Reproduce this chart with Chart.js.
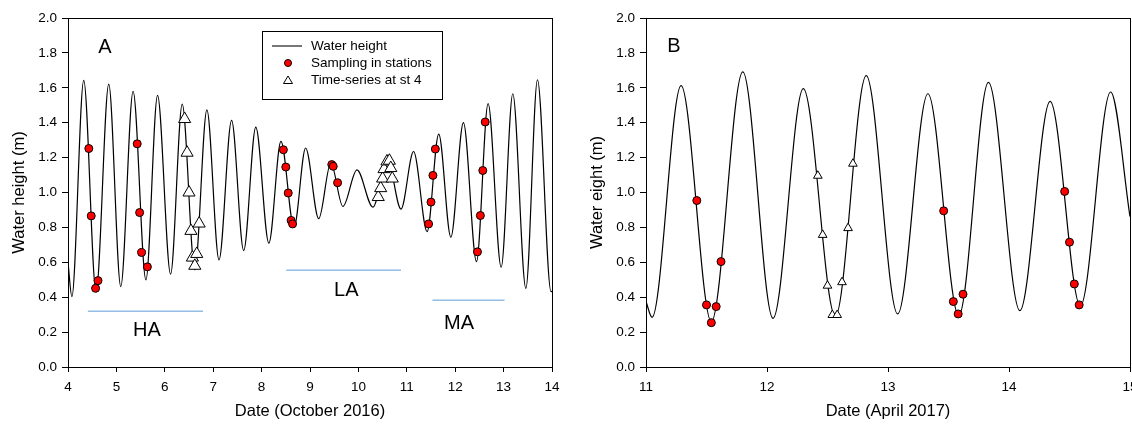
<!DOCTYPE html>
<html><head><meta charset="utf-8">
<script src="https://cdn.jsdelivr.net/npm/chart.js@4.4.1/dist/chart.umd.min.js"></script>
<style>
html,body{margin:0;padding:0;background:#fff;overflow:hidden;width:1132px;height:424px;}
#wrap{position:relative;width:1132px;height:424px;overflow:hidden;background:#fff;}
canvas{position:absolute;top:0;}
</style></head><body>
<div id="wrap">
<canvas id="cA" width="570" height="424" style="left:0px"></canvas>
<canvas id="cB" width="570" height="424" style="left:578px"></canvas>
</div>
<script>
// ---------- data ----------
const yTickValues = [0, 0.2, 0.4, 0.6, 0.8, 1.0, 1.2, 1.4, 1.6, 1.8, 2.0];
const xTicksA = [4, 5, 6, 7, 8, 9, 10, 11, 12, 13, 14];
const xTicksB = [11, 12, 13, 14, 15];

// Panel A: water height, October 2016 (peaks and troughs)
const tideA_date = [4.00, 4.08, 4.325, 4.58, 4.842, 5.09, 5.345, 5.61, 5.85, 6.12, 6.36, 6.62, 6.87, 7.12, 7.38, 7.63, 7.88, 8.15, 8.40, 8.67, 8.91, 9.18, 9.43, 9.68, 9.97, 10.30, 10.60, 10.88, 11.14, 11.42, 11.66, 11.91, 12.17, 12.44, 12.68, 12.95, 13.19, 13.46, 13.70, 13.98, 14.00];
const tideA_height = [0.60, 0.403, 1.643, 0.43, 1.621, 0.461, 1.580, 0.499, 1.557, 0.532, 1.507, 0.557, 1.474, 0.614, 1.413, 0.667, 1.375, 0.71, 1.293, 0.80, 1.255, 0.85, 1.169, 0.92, 1.13, 0.916, 1.19, 0.905, 1.235, 0.776, 1.335, 0.744, 1.40, 0.604, 1.509, 0.572, 1.566, 0.451, 1.646, 0.432, 0.434];

const stationsA_date = [4.43, 4.48, 4.57, 4.62, 5.43, 5.48, 5.52, 5.64, 8.45, 8.50, 8.55, 8.61, 8.64, 9.45, 9.48, 9.57, 11.45, 11.50, 11.54, 11.59, 12.46, 12.52, 12.57, 12.62];
const stationsA_height = [1.252, 0.866, 0.451, 0.495, 1.279, 0.885, 0.656, 0.574, 1.245, 1.146, 0.997, 0.84, 0.82, 1.16, 1.15, 1.056, 0.820, 0.945, 1.098, 1.249, 0.660, 0.868, 1.126, 1.404];

const seriesA_date = [6.41, 6.46, 6.50, 6.54, 6.57, 6.62, 6.66, 6.71, 10.41, 10.46, 10.50, 10.53, 10.59, 10.64, 10.67, 10.70];
const seriesA_height = [1.421, 1.228, 1.00, 0.78, 0.627, 0.58, 0.648, 0.822, 0.974, 1.025, 1.08, 1.134, 1.178, 1.182, 1.14, 1.08];

// Tidal periods shown under panel A
const periodNames = ['HA', 'LA', 'MA'];
const periodStart = [4.41, 8.51, 11.53];
const periodEnd = [6.79, 10.88, 13.02];
const periodLevel = [0.32, 0.555, 0.383];

// Panel B: water height, April 2017
const tideB_date = [11.00, 11.05, 11.29, 11.54, 11.80, 12.05, 12.30, 12.565, 12.82, 13.08, 13.33, 13.585, 13.83, 14.09, 14.34, 14.59, 14.84, 15.00];
const tideB_height = [0.375, 0.285, 1.612, 0.26, 1.691, 0.279, 1.595, 0.29, 1.67, 0.304, 1.566, 0.295, 1.631, 0.323, 1.522, 0.35, 1.576, 0.862];

const stationsB_date = [11.42, 11.50, 11.54, 11.58, 11.62, 13.46, 13.54, 13.58, 13.62, 14.46, 14.50, 14.54, 14.58];
const stationsB_height = [0.954, 0.356, 0.254, 0.346, 0.604, 0.895, 0.375, 0.304, 0.417, 1.006, 0.715, 0.476, 0.356];

const seriesB_date = [12.42, 12.46, 12.50, 12.54, 12.58, 12.62, 12.67, 12.71];
const seriesB_height = [1.096, 0.757, 0.466, 0.298, 0.298, 0.486, 0.796, 1.165];

// ---------- helpers ----------
const FONT = '"Liberation Sans", Arial, sans-serif';
const zip = (xs, ys) => xs.map((x, i) => ({ x: x, y: ys[i] }));

const framePlugin = {
  id: 'frame',
  afterDraw(chart) {
    const a = chart.chartArea, ctx = chart.ctx;
    ctx.save();
    ctx.strokeStyle = '#000'; ctx.lineWidth = 1;
    ctx.strokeRect(Math.round(a.left) + 0.5, Math.round(a.top) + 0.5, Math.round(a.right - a.left), Math.round(a.bottom - a.top));
    ctx.restore();
  }
};

function annotPlugin(cfg) {
  return {
    id: 'annot',
    afterDraw(chart) {
      const ctx = chart.ctx, a = chart.chartArea;
      const xs = chart.scales.x, ys = chart.scales.y;
      ctx.save();
      ctx.fillStyle = '#000';
      ctx.textAlign = 'center'; ctx.textBaseline = 'middle';
      ctx.font = '20px ' + FONT;
      ctx.fillText(cfg.letter, a.left + cfg.letterDx, a.top + cfg.letterDy);
      (cfg.texts || []).forEach(t => {
        ctx.fillText(t.text, xs.getPixelForValue(t.x), ys.getPixelForValue(t.y));
      });
      if (cfg.legend) {
        const L = a.left + 194, T = a.top + 12.5;
        ctx.strokeStyle = '#000'; ctx.lineWidth = 1;
        ctx.strokeRect(Math.round(L) + 0.5, Math.round(T) + 0.5, 180, 68);
        ctx.strokeStyle = '#777'; ctx.lineWidth = 2;
        ctx.beginPath(); ctx.moveTo(L + 10, T + 15.5); ctx.lineTo(L + 40, T + 15.5); ctx.stroke();
        ctx.fillStyle = '#ff0000'; ctx.strokeStyle = '#000'; ctx.lineWidth = 1;
        ctx.beginPath(); ctx.arc(L + 26, T + 32.5, 3.5, 0, Math.PI * 2); ctx.fill(); ctx.stroke();
        ctx.fillStyle = '#fff';
        ctx.beginPath(); ctx.moveTo(L + 26, T + 45.5); ctx.lineTo(L + 30.5, T + 53); ctx.lineTo(L + 21.5, T + 53); ctx.closePath(); ctx.fill(); ctx.stroke();
        ctx.fillStyle = '#000'; ctx.textAlign = 'left'; ctx.font = '13.5px ' + FONT;
        ctx.fillText('Water height', L + 49, T + 15.5);
        ctx.fillText('Sampling in stations', L + 49, T + 32.5);
        ctx.fillText('Time-series at st 4', L + 49, T + 49.5);
      }
      ctx.restore();
    }
  };
}

function makeChart(id, opt) {
  const datasets = [
    { label: 'Sampling in stations', data: opt.stations, showLine: false, pointRadius: 4, pointHoverRadius: 4, pointStyle: 'circle',
      backgroundColor: '#ff0000', borderColor: '#000', borderWidth: 1, order: 1 },
    { label: 'Time-series at st 4', data: opt.series, showLine: false, pointRadius: opt.triR, pointHoverRadius: opt.triR, pointStyle: 'triangle',
      backgroundColor: '#fff', borderColor: '#000', borderWidth: 1, order: 2 },
    { label: 'Water height', data: opt.tide, showLine: true, pointRadius: 0, borderColor: '#000', borderWidth: 1.2,
      cubicInterpolationMode: 'monotone', fill: false, order: 5 }
  ];
  (opt.periods || []).forEach(p => datasets.push({
    label: p.name, data: p.data, showLine: true, pointRadius: 0, borderColor: '#5b9bd5', borderWidth: 1, order: 6
  }));
  return new Chart(document.getElementById(id), {
    type: 'scatter',
    data: { datasets: datasets },
    options: {
      responsive: false, animation: false, devicePixelRatio: 1,
      layout: { padding: { left: 0, right: 18, top: 18, bottom: 3 } },
      plugins: { legend: { display: false }, tooltip: { enabled: false } },
      scales: {
        x: {
          type: 'linear', min: opt.xTicks[0], max: opt.xTicks[opt.xTicks.length - 1],
          afterBuildTicks: s => { s.ticks = opt.xTicks.map(v => ({ value: v })); },
          afterFit: s => { s.height = 54; },
          grid: { display: true, drawOnChartArea: false, drawTicks: true, tickLength: 5, color: '#000', lineWidth: 1 },
          border: { display: true, color: '#000', width: 1 },
          ticks: { color: '#000', font: { family: FONT, size: 13.5 }, padding: 7, maxRotation: 0, autoSkip: false,
                   callback: v => String(v) },
          title: { display: true, text: opt.xTitle, color: '#000', font: { family: FONT, size: 16.5 }, padding: { top: 0, bottom: 0 } }
        },
        y: {
          type: 'linear', min: 0, max: 2,
          afterBuildTicks: s => { s.ticks = yTickValues.map(v => ({ value: v })); },
          afterFit: s => { s.width = 68; },
          grid: { display: true, drawOnChartArea: false, drawTicks: true, tickLength: 6, color: '#000', lineWidth: 1 },
          border: { display: true, color: '#000', width: 1 },
          ticks: { color: '#000', font: { family: FONT, size: 13.5 }, padding: 5, autoSkip: false,
                   callback: v => Number(v).toFixed(1) },
          title: { display: true, text: opt.yTitle, color: '#000', font: { family: FONT, size: 16.5 }, padding: { top: 10, bottom: 0 } }
        }
      }
    },
    plugins: [framePlugin, annotPlugin(opt.annot)]
  });
}

makeChart('cA', {
  xTicks: xTicksA,
  tide: zip(tideA_date, tideA_height),
  stations: zip(stationsA_date, stationsA_height),
  series: zip(seriesA_date, seriesA_height),
  triR: 7,
  periods: periodNames.map((n, i) => ({ name: n, data: [{ x: periodStart[i], y: periodLevel[i] }, { x: periodEnd[i], y: periodLevel[i] }] })),
  xTitle: 'Date (October 2016)', yTitle: 'Water height (m)',
  annot: {
    letter: 'A', letterDx: 37, letterDy: 29, legend: true,
    texts: [
      { text: 'HA', x: 5.63, y: 0.212 },
      { text: 'LA', x: 9.75, y: 0.44 },
      { text: 'MA', x: 12.08, y: 0.25 }
    ]
  }
});

makeChart('cB', {
  xTicks: xTicksB,
  tide: zip(tideB_date, tideB_height),
  stations: zip(stationsB_date, stationsB_height),
  series: zip(seriesB_date, seriesB_height),
  triR: 5,
  periods: [],
  xTitle: 'Date (April 2017)', yTitle: 'Water eight (m)',
  annot: { letter: 'B', letterDx: 28, letterDy: 28, legend: false, texts: [] }
});
</script>
</body></html>
